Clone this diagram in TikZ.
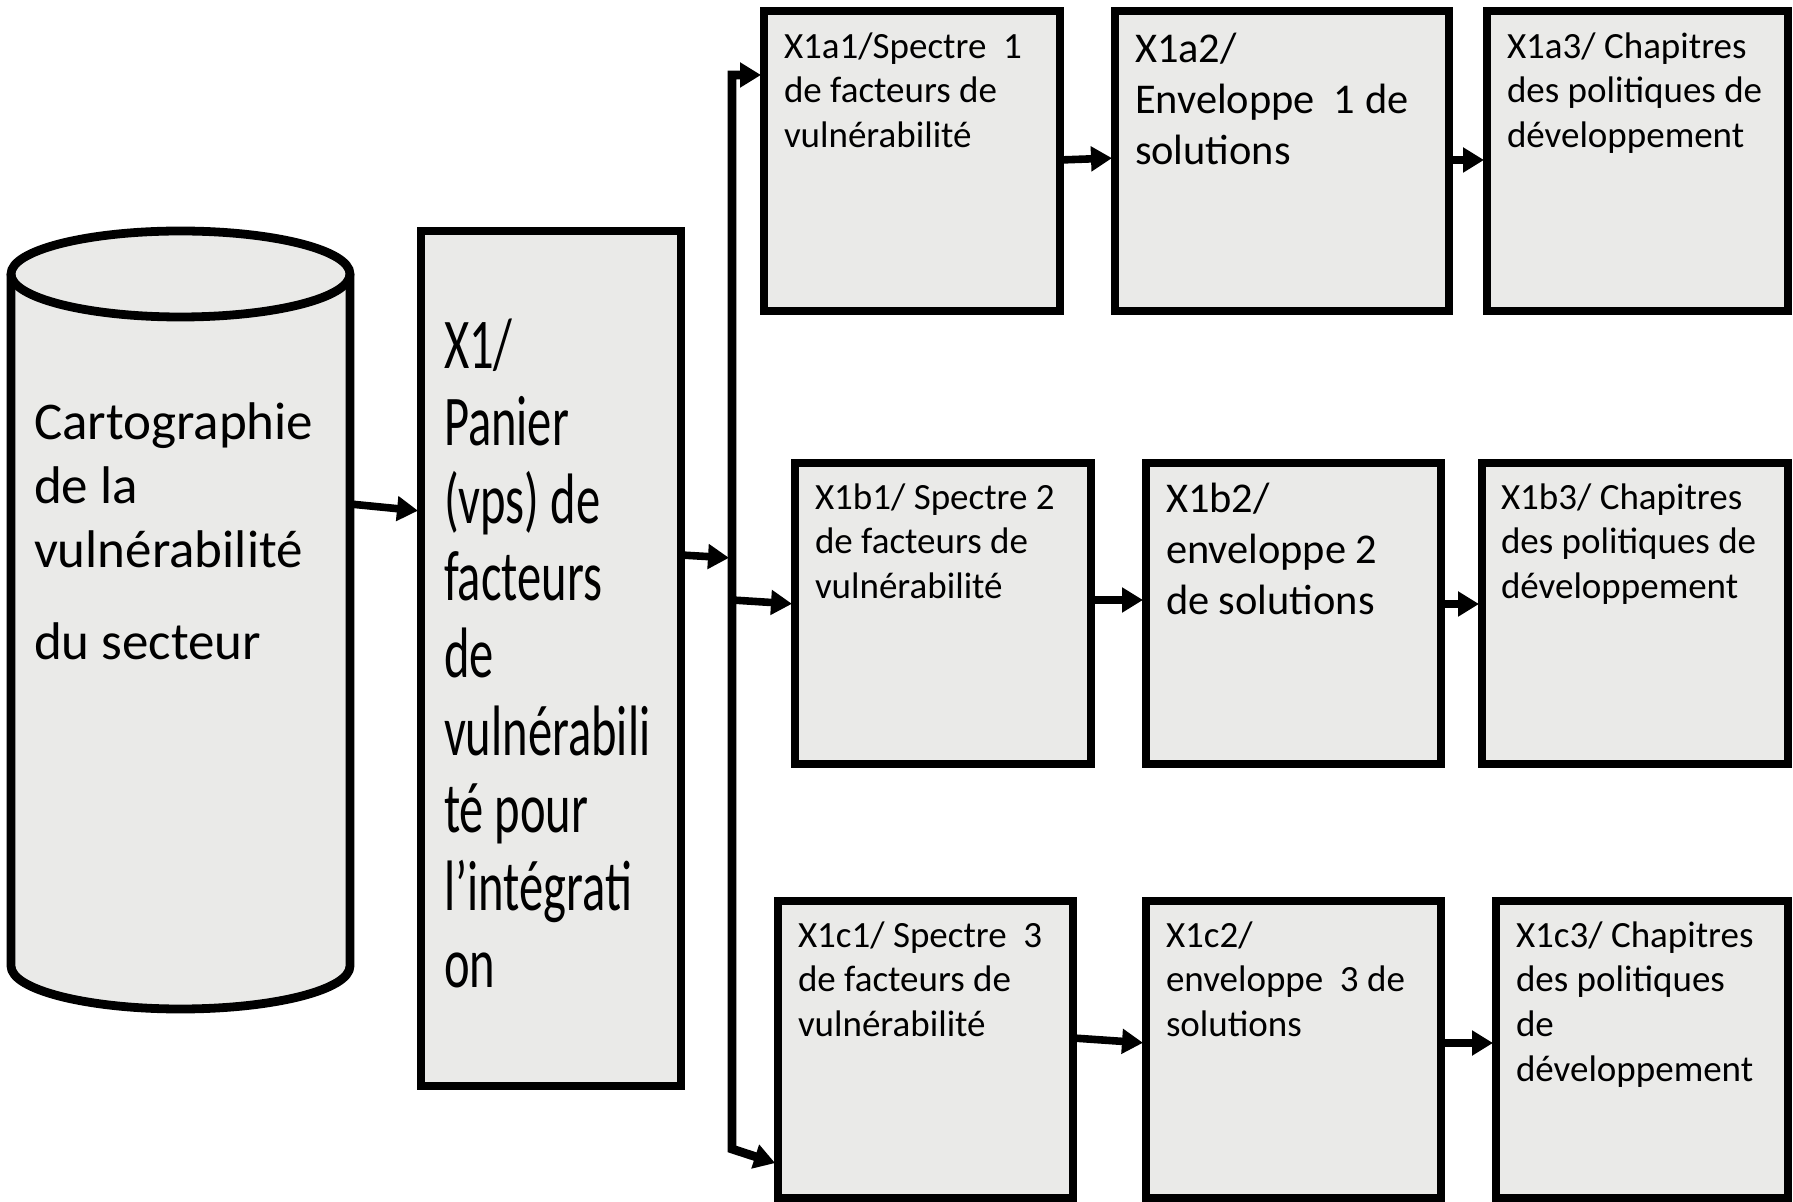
\documentclass[tikz,border=0pt]{standalone}
\usepackage{fontspec}
\setmainfont{Carlito}
\newfontfamily\narrowfont[FakeStretch=0.68]{Carlito}
\usetikzlibrary{arrows.meta,calc,fit}
\definecolor{granite}{RGB}{234,234,232}
% strut fixing the height of the first line of each block of text
\newcommand\firstline{\rule{0pt}{0.9em}}

\begin{document}
\begin{tikzpicture}[x=0.5pt,y=-0.5pt,
  box/.style={draw=black, fill=granite, line width=4.4pt, inner sep=0pt, outer sep=0pt},
  ghost/.style={inner sep=0pt, outer sep=0pt},
  link/.style={line width=3.8pt, line join=miter, -{Triangle[length=10.5pt,width=12pt]}, shorten >=1.5pt},
  txt/.style={anchor=north west, inner sep=0pt, outer sep=0pt, align=left},
  small/.style={txt, font=\fontsize{18.5pt}{22.3pt}\selectfont},
  large/.style={txt, font=\fontsize{21.2pt}{25.5pt}\selectfont},
  cyltext/.style={txt, font=\fontsize{26.5pt}{32pt}\selectfont},
  narrow/.style={txt, font=\narrowfont\fontsize{35.7pt}{38.7pt}\selectfont}
]
\useasboundingbox (0,0) rectangle (1793,1202);

% ---- cylinder: sector vulnerability map ----
\node[ghost, fit={(11,231) (350,1009)}] (carto) {};
\fill[granite] (11,274) -- (11,966)
  .. controls (11,989.75) and (86.9,1009) .. (180.5,1009)
  .. controls (274.1,1009) and (350,989.75) .. (350,966)
  -- (350,274) -- cycle;
\fill[granite] (180.5,274) ellipse [x radius=169.5, y radius=43];
\draw[line width=4.4pt, line join=round] (11,274) -- (11,966)
  .. controls (11,989.75) and (86.9,1009) .. (180.5,1009)
  .. controls (274.1,1009) and (350,989.75) .. (350,966)
  -- (350,274);
\draw[line width=4.4pt] (180.5,274) ellipse [x radius=169.5, y radius=43];
\node[cyltext] (cartotext) at (34,392)
  {\firstline Cartographie\\de la\\vulnérabilité\\[13.75pt]du secteur};

% ---- basket of vulnerability factors ----
\node[box, fit={(421,231) (681,1086)}] (x1) {};
\node[narrow] (x1text) at (444,304)
  {\firstline X1/\\Panier\\(vps) de\\facteurs\\de\\vulnérabili\\té pour\\l’intégrati\\on};

% ---- row a ----
\node[box, fit={(764,11) (1060,311)}] (a1) {};
\node[box, fit={(1115,11) (1449,311)}] (a2) {};
\node[box, fit={(1487,11) (1788,311)}] (a3) {};
\node[small] (a1text) at (784,25)
  {\firstline X1a1/Spectre\ \ 1\\de facteurs de\\vulnérabilité};
\node[large] (a2text) at (1135,24)
  {\firstline X1a2/\\Enveloppe\ \ 1 de\\solutions};
\node[small] (a3text) at (1507,25)
  {\firstline X1a3/ Chapitres\\des politiques de\\développement};

% ---- row b ----
\node[box, fit={(795,463) (1091,764)}] (b1) {};
\node[box, fit={(1146,463) (1441,764)}] (b2) {};
\node[box, fit={(1482,463) (1788,764)}] (b3) {};
\node[small] (b1text) at (815,476)
  {\firstline X1b1/ Spectre 2\\de facteurs de\\vulnérabilité};
\node[large] (b2text) at (1166,474)
  {\firstline X1b2/\\enveloppe 2\\de solutions};
\node[small] (b3text) at (1501,476)
  {\firstline X1b3/ Chapitres\\des politiques de\\développement};

% ---- row c ----
\node[box, fit={(778,901) (1073,1198)}] (c1) {};
\node[box, fit={(1146,901) (1441,1198)}] (c2) {};
\node[box, fit={(1496,901) (1788,1198)}] (c3) {};
\node[small] (c1text) at (798,914)
  {\firstline X1c1/ Spectre\ \ 3\\de facteurs de\\vulnérabilité};
\node[small] (c2text) at (1166,914)
  {\firstline X1c2/\\enveloppe\ \ 3 de\\solutions};
\node[small] (c3text) at (1516,914)
  {\firstline X1c3/ Chapitres\\des politiques\\de\\développement};

% ---- distribution bus ----
\coordinate (busTop) at (732,75);
\coordinate (busBot) at (732,1149);
\coordinate (busIn) at (732,558);
\coordinate (busOut) at (732,600);

% ---- connectors ----
\draw[link] ($(carto.north east)+(0,273)$) -- ($(x1.north west)+(0,280)$);
\draw[link] ($(x1.north east)+(0,324)$) -- (busIn);
\draw[line width=4.4pt, line join=miter,
      {Triangle[length=10.5pt,width=12pt]}-{Triangle[length=10.5pt,width=12pt]},
      shorten >=1.5pt, shorten <=1.5pt]
  ($(c1.north west)+(0,263)$) -- (busBot) -- (busTop) -- ($(a1.north west)+(0,64)$);
\draw[link] (busOut) -- ($(b1.north west)+(0,141)$);

\draw[link] ($(a1.north east)+(0,149)$) -- ($(a2.north west)+(0,147)$);
\draw[link] ($(a2.north east)+(0,149)$) -- ($(a3.north west)+(0,149)$);
\draw[link] ($(b1.north east)+(0,137)$) -- ($(b2.north west)+(0,137)$);
\draw[link] ($(b2.north east)+(0,141)$) -- ($(b3.north west)+(0,141)$);
\draw[link] ($(c1.north east)+(0,137)$) -- ($(c2.north west)+(0,142)$);
\draw[link] ($(c2.north east)+(0,142)$) -- ($(c3.north west)+(0,142)$);
\end{tikzpicture}
\end{document}
